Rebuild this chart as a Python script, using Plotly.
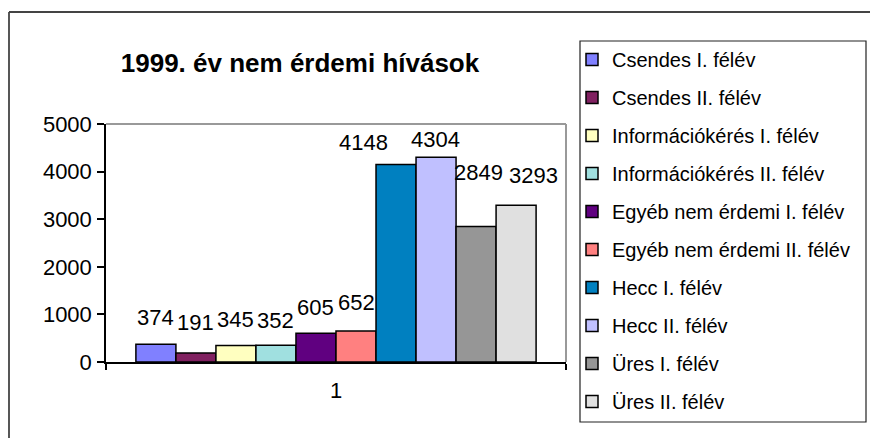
import plotly.graph_objects as go

categories = ["1"]
series_names = [
    "Csendes I. félév", "Csendes II. félév",
    "Információkérés I. félév", "Információkérés II. félév",
    "Egyéb nem érdemi I. félév", "Egyéb nem érdemi II. félév",
    "Hecc I. félév", "Hecc II. félév",
    "Üres I. félév", "Üres II. félév",
]
series_values = [374, 191, 345, 352, 605, 652, 4148, 4304, 2849, 3293]
series_colors = [
    "#8080FF", "#802060", "#FFFFC0", "#A0E0E0", "#600080",
    "#FF8080", "#0080C0", "#C0C0FF", "#969696", "#E0E0E0",
]
y_ticks = [0, 1000, 2000, 3000, 4000, 5000]
title_text = "1999. év nem érdemi hívások"

# label nudges in pixels (Excel-like placement of data labels)
label_dx = [0, 0, 0, 0, 0, 0, -33, -1, 2, 17]
label_dy = [27, 30, 26, 25, 26, 28, 22, 18, 54, 30]

FONT = "Liberation Sans, Arial, sans-serif"

# page has an 8px body margin; figure coordinates = page coordinates - 8
OFF = 8
W, H = 870, 430
L, T = 106 - OFF, 124 - OFF
pw, ph = 460, 238
R, B = W - L - pw, H - T - ph
BARGAP = 0.13
n = len(series_values)
bar_px = pw * (1 - BARGAP) / n

fig = go.Figure()
annotations = []
for i, (name, val, col) in enumerate(zip(series_names, series_values, series_colors)):
    fig.add_trace(go.Bar(
        x=categories, y=[val], name=name,
        marker=dict(color=col, line=dict(color="black", width=1.5)),
        legendgroup=f"g{i}", hoverinfo="name+y",
    ))
    annotations.append(dict(
        x=0, y=val, xref="x", yref="y", text=str(val),
        showarrow=False, xanchor="center", yanchor="middle",
        xshift=(i - (n - 1) / 2) * bar_px + label_dx[i], yshift=label_dy[i],
        font=dict(family=FONT, size=22, color="black"),
    ))

def px_x(p):
    return (p - OFF - L) / pw

def px_y(p):
    return (T + ph - (p - OFF)) / ph

shapes = [
    # plot area top and right (gray)
    dict(type="line", xref="paper", yref="paper", x0=0, x1=1, y0=1, y1=1,
         line=dict(color="#999999", width=2)),
    dict(type="line", xref="paper", yref="paper", x0=1, x1=1, y0=0, y1=1,
         line=dict(color="#999999", width=2)),
    # legend box
    dict(type="rect", xref="paper", yref="paper",
         x0=px_x(580), x1=px_x(866), y0=px_y(422), y1=px_y(41),
         line=dict(color="#222222", width=1.2), fillcolor="rgba(0,0,0,0)"),
    # outer chart border (top & left)
    dict(type="line", xref="paper", yref="paper",
         x0=px_x(9), x1=px_x(900), y0=px_y(12), y1=px_y(12),
         line=dict(color="#444444", width=1.8)),
    dict(type="line", xref="paper", yref="paper",
         x0=px_x(9), x1=px_x(9), y0=px_y(12), y1=px_y(460),
         line=dict(color="#444444", width=1.8)),
]

fig.update_layout(
    width=W, height=H,
    margin=dict(l=L, r=R, t=T, b=B, autoexpand=False),
    paper_bgcolor="white", plot_bgcolor="white",
    barmode="group", bargap=BARGAP, bargroupgap=0,
    font=dict(family=FONT, size=22, color="black"),
    title=dict(text=title_text, xref="container", yref="container",
               x=(300 - OFF) / W, y=1 - (63 - OFF) / H,
               xanchor="center", yanchor="middle",
               font=dict(family=FONT, size=26, weight="bold", color="black")),
    xaxis=dict(type="category", range=[-0.5, 0.5], showline=True,
               linecolor="black", linewidth=1.5,
               ticks="outside", tickson="boundaries", ticklen=6, tickwidth=1.5,
               tickcolor="black", tickfont=dict(size=22), ticklabelstandoff=8,
               showgrid=False, zeroline=False),
    yaxis=dict(range=[0, 5000], tickvals=y_ticks, showline=True, linecolor="black",
               linewidth=1.5, ticks="outside", ticklen=7, tickwidth=1.5,
               tickcolor="black", tickfont=dict(size=22), showgrid=False,
               zeroline=False, ticklabelstandoff=1),
    legend=dict(xref="container", yref="container",
                x=(572 - OFF) / W, y=1 - (40 - OFF) / H,
                xanchor="left", yanchor="top", maxheight=1,
                bgcolor="rgba(0,0,0,0)", borderwidth=0,
                font=dict(family=FONT, size=20, color="black"),
                tracegroupgap=9, traceorder="grouped", itemwidth=30),
    shapes=shapes,
    annotations=annotations,
)

fig.write_html("out.html")
